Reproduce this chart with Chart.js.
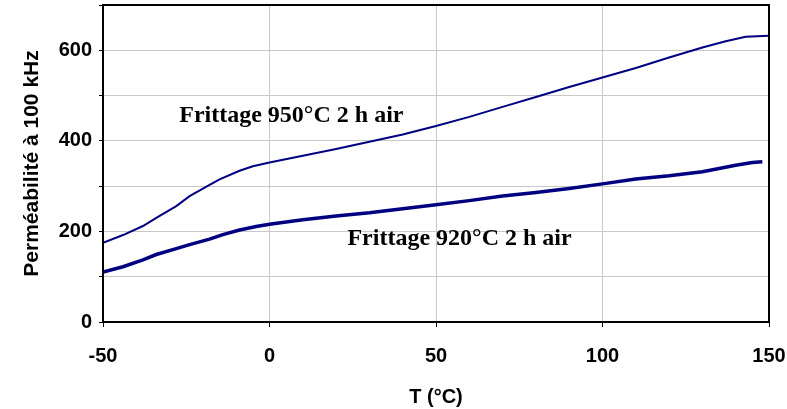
<!DOCTYPE html>
<html><head><meta charset="utf-8">
<script src="https://cdn.jsdelivr.net/npm/chart.js@4.4.1/dist/chart.umd.min.js"></script>
<style>html,body{margin:0;padding:0;background:#fff}#wrap{width:787px;height:409px}</style>
</head><body><div id="wrap"><canvas id="c" width="787" height="409"></canvas></div>
<script>
const temp950 = [-50,-44,-38,-34,-28,-24,-18,-15,-9,-5,0,10,20,30,40,50,60,70,80,90,100,110,120,130,137,143,150];
const perm950 = [175,192,212,230,256,278,303,315,334,344,352,367,382,398,414,433,453,475,497,519,540,561,584,606,620,630,632];
const temp920 = [-50,-44,-38,-34,-28,-24,-18,-14,-9,-4,0,10,20,30,40,50,60,70,80,90,100,110,120,130,140,145,148];
const perm920 = [110,122,137,149,162,171,183,193,203,211,216,226,234,241,250,259,268,278,286,295,305,316,323,332,346,352,354];
const seriesLabels = ['Frittage 950°C 2 h air','Frittage 920°C 2 h air'];
const labelAnchors = [{x:-27.1,y:442},{x:23.4,y:170}];
const xTitle = 'T (°C)';
const yTitle = 'Perméabilité à 100 kHz';

const toPts = (xs, ys) => xs.map((x,i)=>({x:x,y:ys[i]}));
const sans = '"Liberation Sans", Arial, sans-serif';

const overlay = {
  id:'overlay',
  afterDatasetsDraw(chart){
    const {ctx, chartArea:a, scales:{x,y}} = chart;
    ctx.save();
    ctx.strokeStyle='#000'; ctx.lineWidth=2;
    ctx.strokeRect(a.left, a.top, a.right-a.left, a.bottom-a.top);
    ctx.fillStyle='#000';
    ctx.font='bold 24px "Liberation Serif", "Times New Roman", serif';
    ctx.textAlign='left'; ctx.textBaseline='alphabetic';
    seriesLabels.forEach((t,i)=>{
      ctx.fillText(t, x.getPixelForValue(labelAnchors[i].x), y.getPixelForValue(labelAnchors[i].y));
    });
    ctx.restore();
  }
};

new Chart(document.getElementById('c'), {
  type:'line',
  data:{datasets:[
    {label:seriesLabels[0], data:toPts(temp950,perm950), borderColor:'#000080', borderWidth:2, pointRadius:0, fill:false, tension:0},
    {label:seriesLabels[1], data:toPts(temp920,perm920), borderColor:'#000080', borderWidth:3.5, pointRadius:0, fill:false, tension:0}
  ]},
  options:{
    responsive:false, animation:false,
    layout:{padding:{top:5,right:18,left:0,bottom:0}},
    plugins:{legend:{display:false}, tooltip:{enabled:false}},
    scales:{
      x:{type:'linear', min:-50, max:150,
        afterFit(s){ s.height = 87; s.paddingLeft = 0; s.paddingRight = 0; },
        ticks:{stepSize:50, color:'#000', padding:17, maxRotation:0, font:{family:sans, size:20, weight:'bold'}},
        grid:{color:'#c8c8c8', lineWidth:1, tickLength:5, tickColor:'#000'},
        border:{color:'#000', width:2},
        title:{display:true, text:xTitle, color:'#000', padding:{top:0,bottom:0}, font:{family:sans, size:20, weight:'bold'}}
      },
      y:{min:0, max:700,
        afterFit(s){ s.width = 103; s.paddingTop = 0; s.paddingBottom = 0; },
        ticks:{stepSize:100, color:'#000', padding:7, callback:v=> (v%200===0 ? String(v) : ''), font:{family:sans, size:20, weight:'bold'}},
        grid:{color:'#c8c8c8', lineWidth:1, tickLength:4, tickColor:'#000'},
        border:{color:'#000', width:2},
        title:{display:true, text:yTitle, color:'#000', padding:{top:20,bottom:0}, font:{family:sans, size:21, weight:'bold'}}
      }
    }
  },
  plugins:[overlay]
});
</script></body></html>
